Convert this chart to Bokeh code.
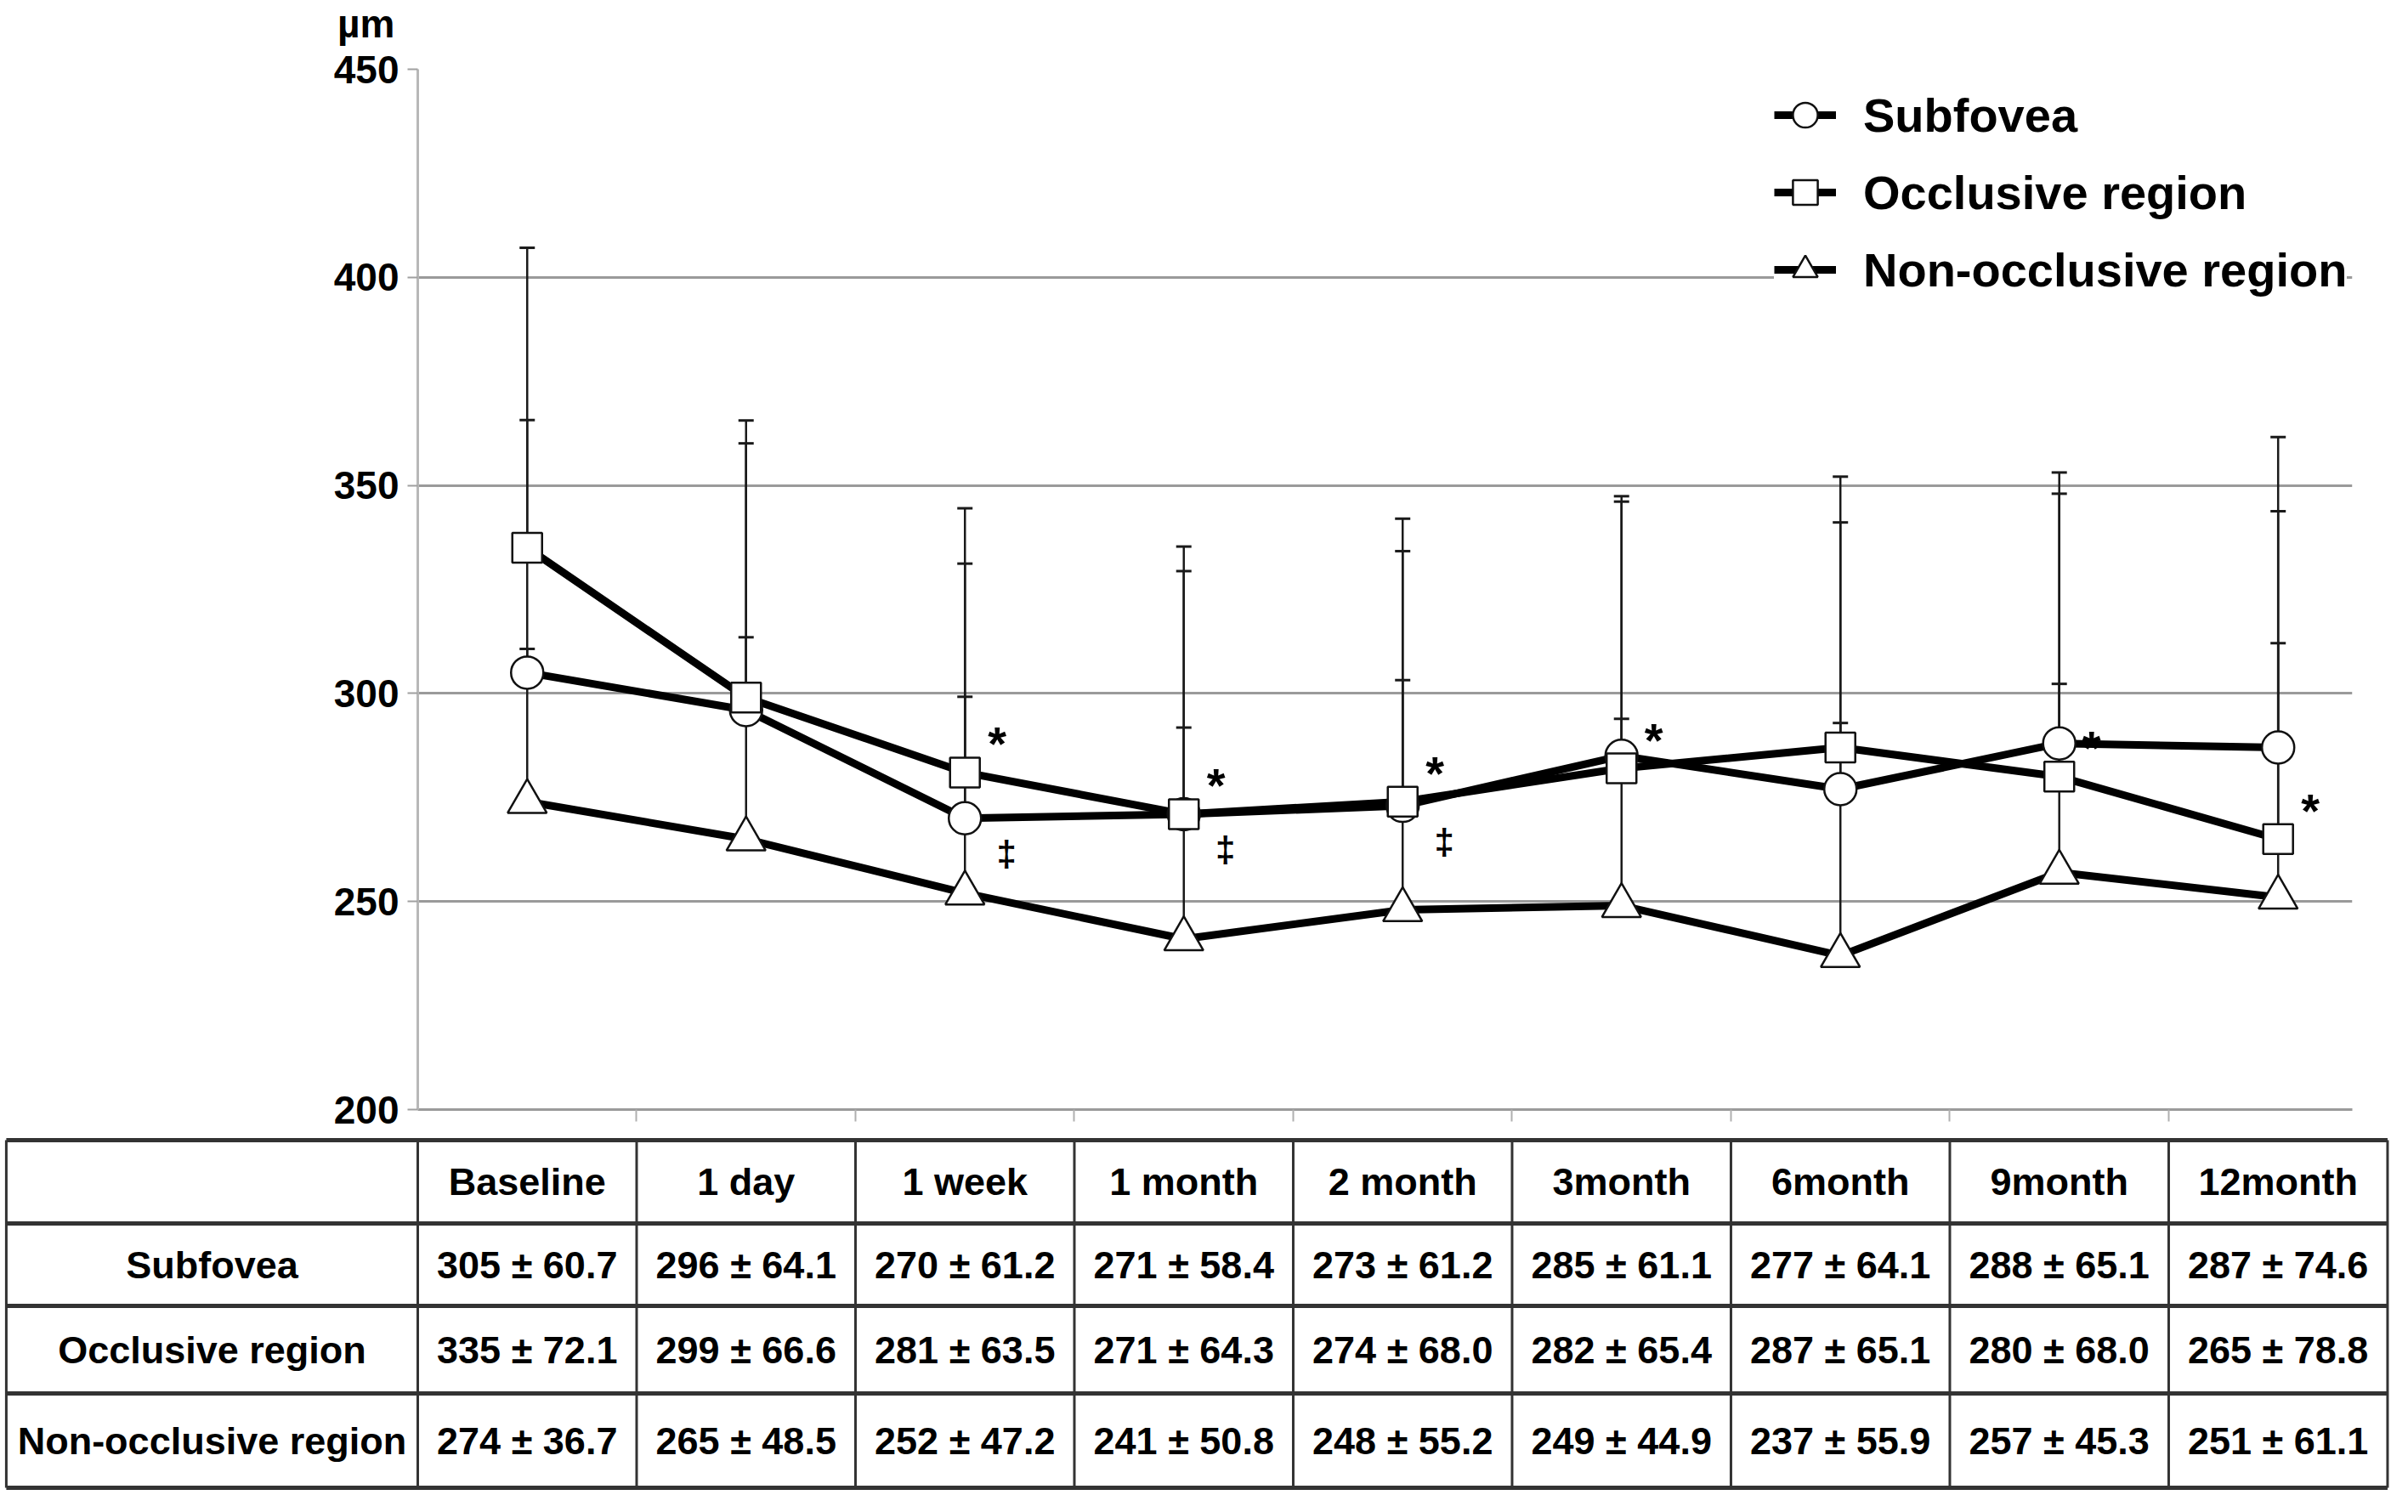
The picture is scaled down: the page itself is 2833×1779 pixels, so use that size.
from bokeh.plotting import figure
from bokeh.models import Range1d, FixedTicker, Legend, LegendItem
from bokeh.core.properties import value
from bokeh.embed import file_html
from bokeh.resources import INLINE

# ---------------- data ----------------
categories = ["Baseline", "1 day", "1 week", "1 month", "2 month",
              "3month", "6month", "9month", "12month"]
series_names = ["Subfovea", "Occlusive region", "Non-occlusive region"]
subfovea_mean = [305, 296, 270, 271, 273, 285, 277, 288, 287]
subfovea_sd = [60.7, 64.1, 61.2, 58.4, 61.2, 61.1, 64.1, 65.1, 74.6]
occlusive_mean = [335, 299, 281, 271, 274, 282, 287, 280, 265]
occlusive_sd = [72.1, 66.6, 63.5, 64.3, 68.0, 65.4, 65.1, 68.0, 78.8]
nonocc_mean = [274, 265, 252, 241, 248, 249, 237, 257, 251]
nonocc_sd = [36.7, 48.5, 47.2, 50.8, 55.2, 44.9, 55.9, 45.3, 61.1]
y_ticks = [200, 250, 300, 350, 400, 450]
unit_label = "µm"
star_categories = ["1 week", "1 month", "2 month", "3month", "9month", "12month"]
dagger_categories = ["1 week", "1 month", "2 month"]

FONT = "Liberation Sans"
GRID = "#9a9a9a"

means = [subfovea_mean, occlusive_mean, nonocc_mean]
sds = [subfovea_sd, occlusive_sd, nonocc_sd]
markers = ["circle", "square", "triangle"]
msizes = [38, 35, 46]
xs = list(range(len(categories)))
ncat = len(categories)

# ---------------- layout constants (pixels) ----------------
W, H = 2817, 1763
B_LEFT, B_RIGHT, B_TOP = 491, 50, 81
FRAME_BOTTOM = 1305          # frame bottom, from the top of the canvas
TABLE_TOP = 1339             # table top, from the top of the canvas

# ---------------- figure ----------------
p = figure(width=W, height=H, title=None,
           x_range=Range1d(-0.5, 8.339), y_range=Range1d(200, 450),
           output_backend="svg", toolbar_location=None,
           min_border_left=B_LEFT, min_border_right=B_RIGHT,
           min_border_top=B_TOP, min_border_bottom=H - FRAME_BOTTOM)
p.outline_line_color = None
p.background_fill_color = "white"
# table coordinates: pixels below the top of the table
p.extra_y_ranges = {"tab": Range1d(start=FRAME_BOTTOM - TABLE_TOP,
                                   end=B_TOP - TABLE_TOP)}

p.xgrid.visible = False
p.ygrid.ticker = FixedTicker(ticks=y_ticks)
p.ygrid.grid_line_color = GRID
p.ygrid.grid_line_width = 3

x_ticks = [i + 0.5 for i in range(ncat - 1)]
p.xaxis.ticker = FixedTicker(ticks=x_ticks)
p.xaxis.major_label_overrides = {t: "" for t in x_ticks}
p.xaxis.major_label_standoff = 0
p.xaxis.major_tick_out = 14
p.xaxis.major_tick_in = 0
p.xaxis.major_tick_line_color = "#b0b0b0"
p.xaxis.major_tick_line_width = 2
p.xaxis.minor_tick_line_color = None
p.xaxis.axis_line_color = GRID
p.xaxis.axis_line_width = 3

p.yaxis.ticker = FixedTicker(ticks=y_ticks)
p.yaxis.major_label_text_font = FONT
p.yaxis.major_label_text_font_style = "bold"
p.yaxis.major_label_text_font_size = "46px"
p.yaxis.major_label_text_color = "black"
p.yaxis.major_label_standoff = 10
p.yaxis.major_tick_out = 12
p.yaxis.major_tick_in = 0
p.yaxis.major_tick_line_color = "#a0a0a0"
p.yaxis.major_tick_line_width = 2
p.yaxis.minor_tick_line_color = None
p.yaxis.axis_line_color = "#b8b8b8"
p.yaxis.axis_line_width = 3

# error bars (mean + SD)
for m, s in zip(means, sds):
    tops = [a + b for a, b in zip(m, s)]
    p.segment(x0=xs, y0=m, x1=xs, y1=tops, line_color="#1a1a1a", line_width=2.5)
    p.scatter(x=xs, y=tops, marker="dash", size=18, line_color="#1a1a1a", line_width=3)

line_rs = []
for m in means:
    line_rs.append(p.line(xs, m, line_color="black", line_width=9, line_join="round"))
mark_rs = []
for m, mk, sz in zip(means, markers, msizes):
    mark_rs.append(p.scatter(xs, m, marker=mk, size=sz, fill_color="white",
                             line_color="#111111", line_width=2.5))

# significance marks
star_x = [categories.index(c) for c in star_categories]
star_y = [occlusive_mean[i] for i in star_x]
p.text(x=star_x, y=star_y, text=["*"] * len(star_x), x_offset=38, y_offset=-34,
       text_font=value(FONT), text_font_style="bold", text_font_size="56px",
       text_align="center", text_baseline="middle", text_color="black")
dag_x = [categories.index(c) for c in dagger_categories]
dag_y = [subfovea_mean[i] for i in dag_x]
p.text(x=dag_x, y=dag_y, text=["‡"] * len(dag_x), x_offset=49, y_offset=42,
       text_font=value(FONT), text_font_style="bold", text_font_size="42px",
       text_align="center", text_baseline="middle", text_color="black")

# unit label above the axis
p.text(x=[-0.5], y=[y_ticks[-1]], text=[unit_label], x_offset=-27, y_offset=-54,
       text_font=value(FONT), text_font_style="bold", text_font_size="46px",
       text_align="right", text_baseline="middle", text_color="black",
       level="overlay")

frame_h = FRAME_BOTTOM - B_TOP
legend = Legend(items=[LegendItem(label=n, renderers=[lr, mr])
                       for n, lr, mr in zip(series_names, line_rs, mark_rs)],
                location=(1596, frame_h - 3 - 278), label_text_font=FONT,
                label_text_font_style="bold", label_text_font_size="56px",
                label_text_color="black", glyph_width=73, glyph_height=90,
                label_height=90, spacing=1, padding=3, label_standoff=32,
                border_line_color=None, background_fill_color="white",
                background_fill_alpha=1.0, margin=0)
p.add_layout(legend)

# ---------------- table ----------------
left_edge = -2.38
row_edges = [2, 100, 197, 300, 411]
p.segment(x0=[left_edge] * len(row_edges), y0=row_edges,
          x1=[ncat - 0.5] * len(row_edges), y1=row_edges,
          line_color="#333333", line_width=5, y_range_name="tab", level="overlay")
vx = [left_edge] + [i - 0.5 for i in range(ncat + 1)]
p.segment(x0=vx, y0=[row_edges[0]] * len(vx), x1=vx, y1=[row_edges[-1]] * len(vx),
          line_color="#333333", line_width=3, y_range_name="tab", level="overlay")

centers = [(a + b) / 2 for a, b in zip(row_edges[:-1], row_edges[1:])]
tx, ty, tt = [], [], []
for i, c in enumerate(categories):
    tx.append(i); ty.append(centers[0]); tt.append(c)
for r, (name, m, s) in enumerate(zip(series_names, means, sds)):
    tx.append((left_edge - 0.5) / 2); ty.append(centers[r + 1]); tt.append(name)
    for i in range(ncat):
        tx.append(i); ty.append(centers[r + 1]); tt.append(f"{m[i]} ± {s[i]:.1f}")
p.text(x=tx, y=ty, text=tt, text_font=value(FONT), text_font_style="bold",
       text_font_size="45px", text_align="center", text_baseline="middle",
       text_color="black", y_range_name="tab", level="overlay")

open("out.html", "w").write(file_html(p, INLINE))
